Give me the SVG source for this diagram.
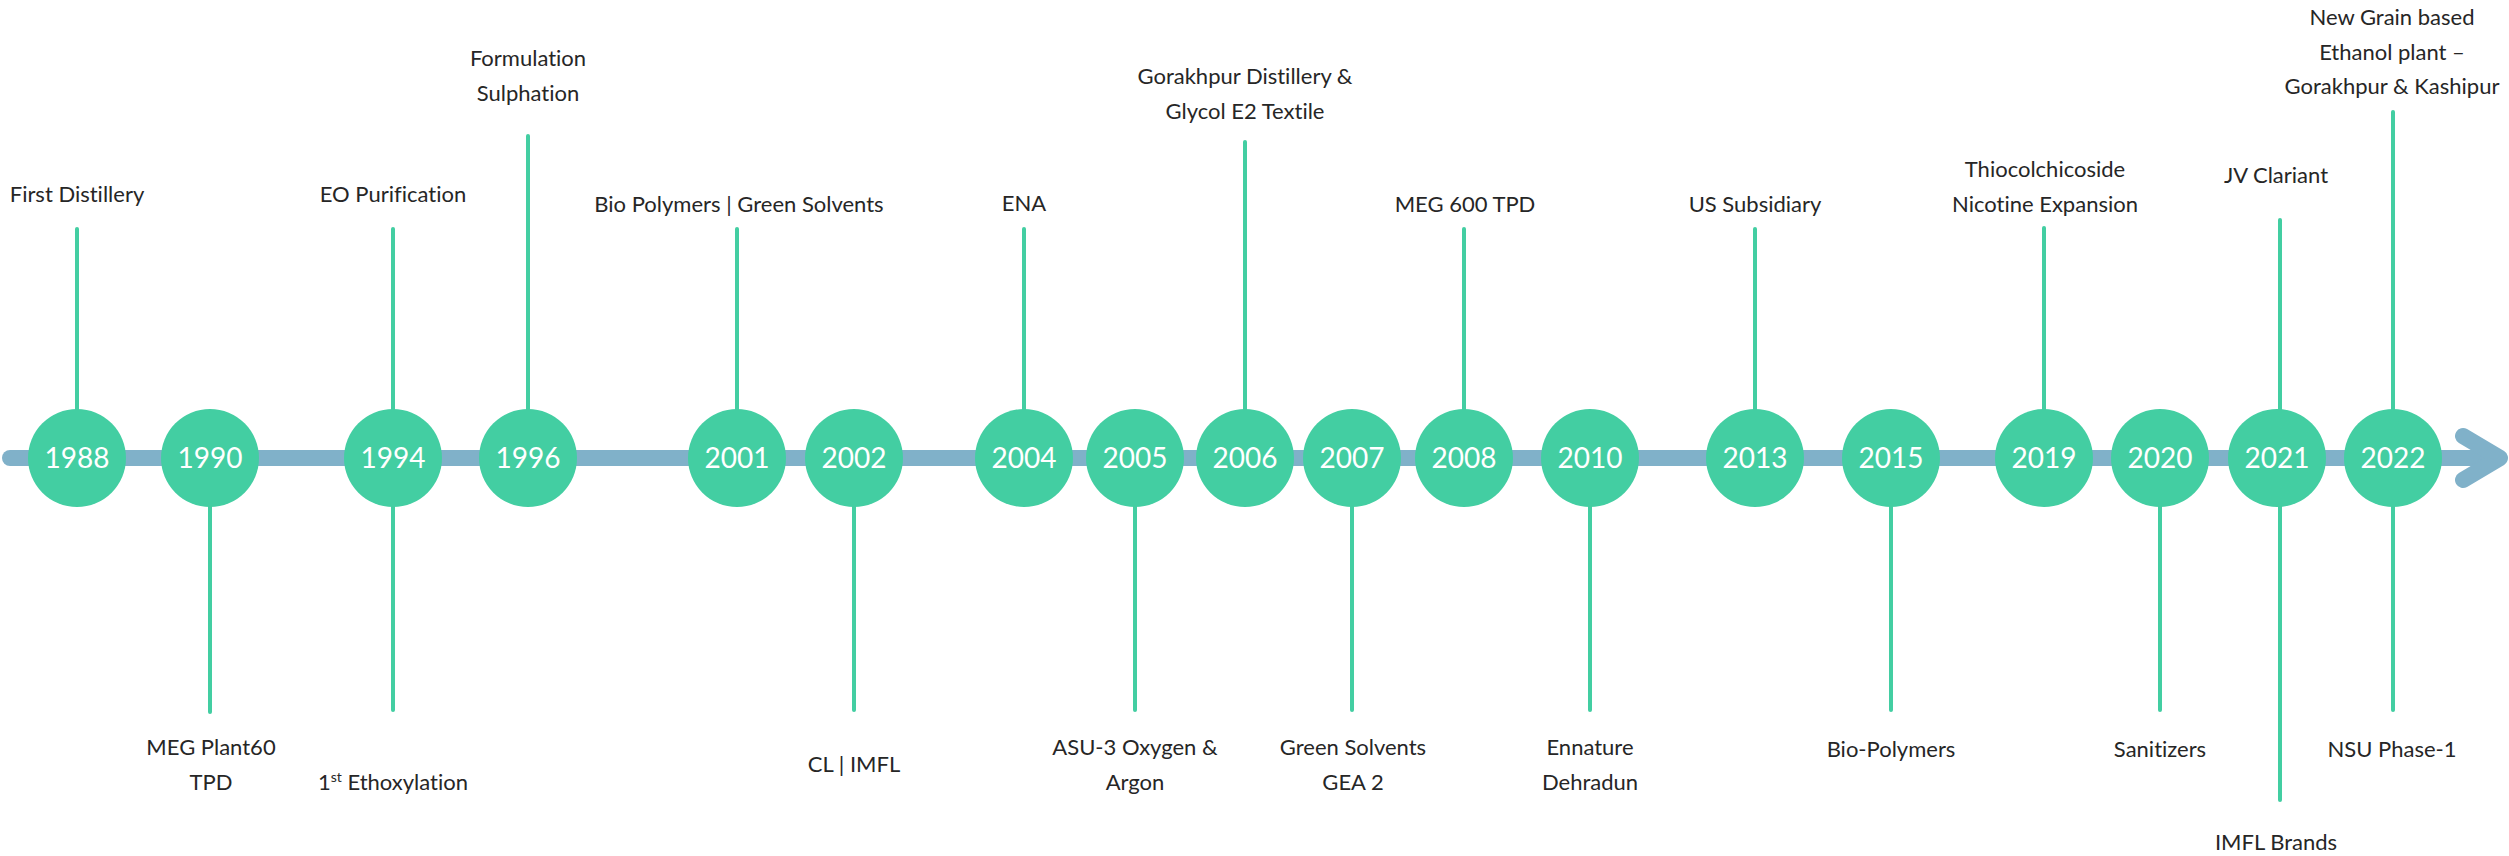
<svg xmlns="http://www.w3.org/2000/svg" width="2509" height="856" viewBox="0 0 2509 856">
<style>
.bar{stroke:#80B1C9;stroke-width:16;stroke-linecap:round;stroke-linejoin:round;fill:none}
.stem{stroke:#43CEA2;stroke-width:4;stroke-linecap:round}
.dot{fill:#43CEA2}
.yr{font-family:Lato,"Open Sans",sans-serif;font-size:28px;fill:#FFFFFF;text-anchor:middle}
.lb{font-family:Lato,"Open Sans",sans-serif;font-size:22px;fill:#262626;text-anchor:middle;font-variant-ligatures:none;font-feature-settings:"liga" 0,"dlig" 0}
</style>
<rect width="2509" height="856" fill="#FFFFFF"/>
<g id="axis">
<line class="bar" x1="10" y1="458" x2="2490" y2="458"/>
<polyline class="bar" points="2463,436 2500,458 2463,480"/>
</g>
<g id="connectors">
<line class="stem" x1="77" y1="229" x2="77" y2="458"/>
<line class="stem" x1="210" y1="458" x2="210" y2="712"/>
<line class="stem" x1="393" y1="229" x2="393" y2="710"/>
<line class="stem" x1="528" y1="136" x2="528" y2="458"/>
<line class="stem" x1="737" y1="229" x2="737" y2="458"/>
<line class="stem" x1="854" y1="458" x2="854" y2="710"/>
<line class="stem" x1="1024" y1="229" x2="1024" y2="458"/>
<line class="stem" x1="1135" y1="458" x2="1135" y2="710"/>
<line class="stem" x1="1245" y1="142" x2="1245" y2="458"/>
<line class="stem" x1="1352" y1="458" x2="1352" y2="710"/>
<line class="stem" x1="1464" y1="229" x2="1464" y2="458"/>
<line class="stem" x1="1590" y1="458" x2="1590" y2="710"/>
<line class="stem" x1="1755" y1="229" x2="1755" y2="458"/>
<line class="stem" x1="1891" y1="458" x2="1891" y2="710"/>
<line class="stem" x1="2044" y1="228" x2="2044" y2="458"/>
<line class="stem" x1="2160" y1="458" x2="2160" y2="710"/>
<line class="stem" x1="2280" y1="220" x2="2280" y2="800"/>
<line class="stem" x1="2393" y1="112" x2="2393" y2="710"/>
</g>
<g id="n1988"><circle class="dot" cx="77" cy="458" r="49"/><text class="yr" x="77" y="468">1988</text><text class="lb" x="77" y="202">First Distillery</text></g>
<g id="n1990"><circle class="dot" cx="210" cy="458" r="49"/><text class="yr" x="210" y="468">1990</text><text class="lb" x="211" y="755">MEG Plant60</text><text class="lb" x="211" y="790">TPD</text></g>
<g id="n1994"><circle class="dot" cx="393" cy="458" r="49"/><text class="yr" x="393" y="468">1994</text><text class="lb" x="393" y="202">EO Purification</text><text class="lb" x="393" y="790">1<tspan font-size="14" baseline-shift="super">st</tspan> Ethoxylation</text></g>
<g id="n1996"><circle class="dot" cx="528" cy="458" r="49"/><text class="yr" x="528" y="468">1996</text><text class="lb" x="528" y="66">Formulation</text><text class="lb" x="528" y="101">Sulphation</text></g>
<g id="n2001"><circle class="dot" cx="737" cy="458" r="49"/><text class="yr" x="737" y="468">2001</text><text class="lb" x="739" y="212">Bio Polymers | Green Solvents</text></g>
<g id="n2002"><circle class="dot" cx="854" cy="458" r="49"/><text class="yr" x="854" y="468">2002</text><text class="lb" x="854" y="772">CL | IMFL</text></g>
<g id="n2004"><circle class="dot" cx="1024" cy="458" r="49"/><text class="yr" x="1024" y="468">2004</text><text class="lb" x="1024" y="211">ENA</text></g>
<g id="n2005"><circle class="dot" cx="1135" cy="458" r="49"/><text class="yr" x="1135" y="468">2005</text><text class="lb" x="1135" y="755">ASU-3 Oxygen &amp;</text><text class="lb" x="1135" y="790">Argon</text></g>
<g id="n2006"><circle class="dot" cx="1245" cy="458" r="49"/><text class="yr" x="1245" y="468">2006</text><text class="lb" x="1245" y="84">Gorakhpur Distillery &amp;</text><text class="lb" x="1245" y="119">Glycol E2 Textile</text></g>
<g id="n2007"><circle class="dot" cx="1352" cy="458" r="49"/><text class="yr" x="1352" y="468">2007</text><text class="lb" x="1353" y="755">Green Solvents</text><text class="lb" x="1353" y="790">GEA 2</text></g>
<g id="n2008"><circle class="dot" cx="1464" cy="458" r="49"/><text class="yr" x="1464" y="468">2008</text><text class="lb" x="1465" y="212">MEG 600 TPD</text></g>
<g id="n2010"><circle class="dot" cx="1590" cy="458" r="49"/><text class="yr" x="1590" y="468">2010</text><text class="lb" x="1590" y="755">Ennature</text><text class="lb" x="1590" y="790">Dehradun</text></g>
<g id="n2013"><circle class="dot" cx="1755" cy="458" r="49"/><text class="yr" x="1755" y="468">2013</text><text class="lb" x="1755" y="212">US Subsidiary</text></g>
<g id="n2015"><circle class="dot" cx="1891" cy="458" r="49"/><text class="yr" x="1891" y="468">2015</text><text class="lb" x="1891" y="757">Bio-Polymers</text></g>
<g id="n2019"><circle class="dot" cx="2044" cy="458" r="49"/><text class="yr" x="2044" y="468">2019</text><text class="lb" x="2045" y="177">Thiocolchicoside</text><text class="lb" x="2045" y="212">Nicotine Expansion</text></g>
<g id="n2020"><circle class="dot" cx="2160" cy="458" r="49"/><text class="yr" x="2160" y="468">2020</text><text class="lb" x="2160" y="757">Sanitizers</text></g>
<g id="n2021"><circle class="dot" cx="2277" cy="458" r="49"/><text class="yr" x="2277" y="468">2021</text><text class="lb" x="2276" y="183">JV Clariant</text><text class="lb" x="2276" y="850">IMFL Brands</text></g>
<g id="n2022"><circle class="dot" cx="2393" cy="458" r="49"/><text class="yr" x="2393" y="468">2022</text><text class="lb" x="2392" y="25">New Grain based</text><text class="lb" x="2392" y="60">Ethanol plant –</text><text class="lb" x="2392" y="94">Gorakhpur &amp; Kashipur</text><text class="lb" x="2392" y="757">NSU Phase-1</text></g>
</svg>
